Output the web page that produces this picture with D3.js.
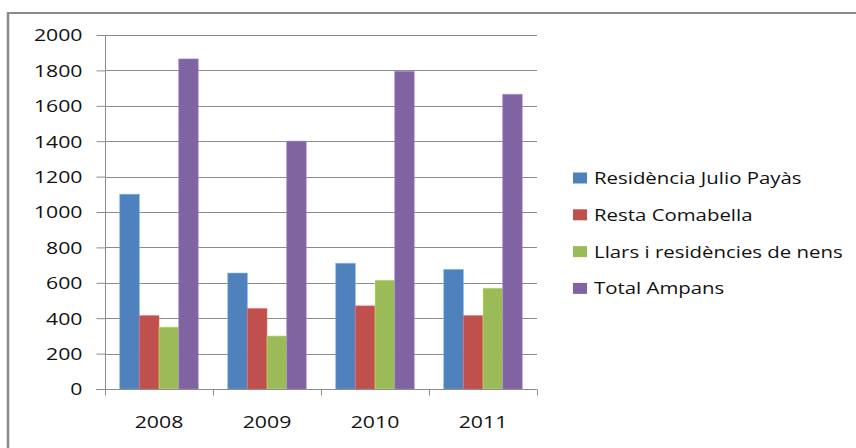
<!DOCTYPE html>
<html>
<head>
<meta charset="utf-8">
<script src="https://cdn.jsdelivr.net/npm/d3@7"></script>
<style>
  html, body { margin: 0; padding: 0; background: #fff; }
  svg { display: block; }
  text { font-family: "Open Sans", sans-serif; font-size: 17px; fill: #111; }
</style>
</head>
<body>
<svg id="chart" width="856" height="448"></svg>
<script>
const years = ["2008", "2009", "2010", "2011"];
const seriesNames = ["Residència Julio Payàs", "Resta Comabella", "Llars i residències de nens", "Total Ampans"];
const julioPayas = [1100, 655, 710, 675];
const restaComabella = [415, 455, 470, 415];
const llarsNens = [350, 300, 615, 570];
const totalAmpans = [1865, 1400, 1795, 1665];
const yTicks = [0, 200, 400, 600, 800, 1000, 1200, 1400, 1600, 1800, 2000];
const colors = ["#4F81BD", "#C0504D", "#9BBB59", "#8064A2"];

const seriesValues = [julioPayas, restaComabella, llarsNens, totalAmpans];
const SX = 1.25;   // horizontal stretch of the reference axis text
const SXL = 1.2;   // horizontal stretch of the legend text

const svg = d3.select("#chart");

// frame
svg.append("line").attr("x1", 7).attr("x2", 856).attr("y1", 13).attr("y2", 13)
  .attr("stroke", "#8a8a8a").attr("stroke-width", 2);
svg.append("line").attr("x1", 8).attr("x2", 8).attr("y1", 12).attr("y2", 448)
  .attr("stroke", "#8a8a8a").attr("stroke-width", 2.5);

const plot = { left: 105, right: 537, top: 35, bottom: 389 };

const x0 = d3.scaleBand().domain(years).range([plot.left, plot.right]).padding(0);
const x1 = d3.scaleBand().domain(seriesNames).range([0, x0.bandwidth()])
  .paddingInner(0).paddingOuter(0.75);
const y = d3.scaleLinear().domain([0, 2000]).range([plot.bottom, plot.top]);

// gridlines
svg.append("g").selectAll("line").data(yTicks.filter(d => d > 0)).join("line")
  .attr("x1", plot.left).attr("x2", plot.right)
  .attr("y1", d => Math.round(y(d)) + 0.5).attr("y2", d => Math.round(y(d)) + 0.5)
  .attr("stroke", "#8c8c8c").attr("stroke-width", 1);

// bars
const groups = svg.append("g").selectAll("g").data(years).join("g")
  .attr("transform", d => `translate(${x0(d)},0)`);
groups.selectAll("rect")
  .data((yr, i) => seriesNames.map((s, k) => ({ s, k, v: seriesValues[k][i] })))
  .join("rect")
  .attr("x", d => x1(d.s))
  .attr("width", x1.bandwidth())
  .attr("y", d => y(d.v))
  .attr("height", d => plot.bottom - y(d.v))
  .attr("fill", d => colors[d.k])
  .attr("stroke", d => d3.color(colors[d.k]).brighter(0.8))
  .attr("stroke-opacity", 0.5)
  .attr("stroke-width", 1);

// y axis
const yAxis = svg.append("g").attr("transform", `translate(${plot.left + 0.5},0)`)
  .call(d3.axisLeft(y).tickValues(yTicks).tickSize(9).tickPadding(14).tickFormat(d3.format("d")));
yAxis.attr("font-size", null).attr("font-family", null);
yAxis.select(".domain").attr("stroke", "#8c8c8c").attr("d", `M0,${plot.top}V${plot.bottom}`);
yAxis.selectAll(".tick line").attr("stroke", "#8c8c8c");
yAxis.selectAll(".tick text")
  .attr("dy", "0.35em")
  .attr("transform", function () { const xx = +d3.select(this).attr("x"); return `translate(${xx * (1 - SX)},0) scale(${SX},1)`; });

// x axis
const xAxis = svg.append("g").attr("transform", `translate(0,${plot.bottom + 0.5})`)
  .call(d3.axisBottom(x0).tickSize(0).tickPadding(26));
xAxis.attr("font-size", null).attr("font-family", null);
xAxis.select(".domain").attr("stroke", "#8c8c8c").attr("d", `M${plot.left - 9},0H${plot.right}`);
xAxis.selectAll(".tick text").attr("dy", "0.71em").attr("x", 0)
  .attr("transform", `scale(${SX},1)`);
// category boundary ticks
const boundaries = years.map(d => x0(d)).concat([plot.right]);
xAxis.append("g").selectAll("line").data(boundaries).join("line")
  .attr("x1", d => Math.round(d) + 0.5).attr("x2", d => Math.round(d) + 0.5)
  .attr("y1", 0).attr("y2", 6).attr("stroke", "#8c8c8c");

// legend
const legend = svg.append("g").attr("transform", "translate(573,178)");
const items = legend.selectAll("g").data(seriesNames).join("g")
  .attr("transform", (d, i) => `translate(0,${i * 36.8})`);
items.append("rect").attr("x", 0).attr("y", -5.5).attr("width", 14).attr("height", 11)
  .attr("fill", (d, i) => colors[i]);
items.append("text").attr("x", 0).attr("y", 0).attr("dy", "0.35em")
  .attr("transform", `translate(21,0) scale(${SXL},1)`)
  .text(d => d);
</script>
</body>
</html>
